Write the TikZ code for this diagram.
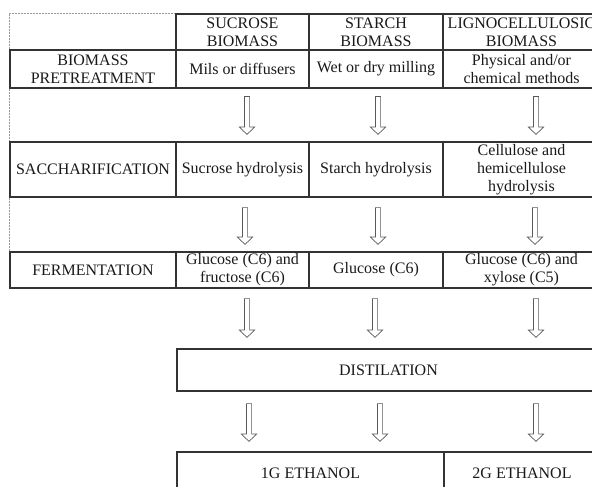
\documentclass[tikz,border=0pt]{standalone}
\usepackage{fontspec}
\setmainfont{Liberation Serif}
\usetikzlibrary{calc}

% hollow block arrow pointing down: #1 top of the shaft, #2 tip
\newcommand\hollowdown[2]{%
  \draw[blockarrow] let \p1=#1, \p2=#2 in
    ({\x1-2.6pt},\y1) -- ({\x1+2.6pt},\y1) -- ({\x1+2.6pt},{\y2+7.5pt})
    -- ({\x1+7.8pt},{\y2+7.5pt}) -- (\x1,\y2) -- ({\x1-7.8pt},{\y2+7.5pt})
    -- ({\x1-2.6pt},{\y2+7.5pt}) -- cycle;}

\begin{document}
\begin{tikzpicture}[x=1pt,y=-1pt,
  cell/.style={draw=black!80, line width=1.2pt, rectangle, inner sep=0pt,
    align=center, text=black!90, font=\fontsize{16}{18}\selectfont},
  hidden/.style={draw=black!40, line width=1pt, dash pattern=on 2pt off 1pt},
  blockarrow/.style={draw=black!65, line width=0.7pt, fill=white, line join=miter}]
\useasboundingbox (0,0) rectangle (592,487);
\clip (0,0) rectangle (592,487);

% header row
\node[cell, minimum width=133, minimum height=36] (hd1) at (242.5,32) {SUCROSE\\BIOMASS};
\node[cell, minimum width=134, minimum height=36] (hd2) at (376,32) {STARCH\\BIOMASS};
\node[cell, minimum width=157, minimum height=36] (hd3) at (521.5,32) {LIGNOCELLULOSIC\\BIOMASS};

% pretreatment row
\node[cell, minimum width=166, minimum height=38] (pre0) at (93,69) {BIOMASS\\PRETREATMENT};
\node[cell, minimum width=133, minimum height=38] (pre1) at (242.5,69) {Mils or diffusers};
\node[cell, minimum width=134, minimum height=38] (pre2) at (376,69) {Wet or dry milling};
\node[cell, minimum width=157, minimum height=38] (pre3) at (521.5,69) {Physical and/or\\chemical methods};

% saccharification row
\node[cell, minimum width=166, minimum height=55] (sac0) at (93,169.5) {SACCHARIFICATION};
\node[cell, minimum width=133, minimum height=55] (sac1) at (242.5,169.5) {Sucrose hydrolysis};
\node[cell, minimum width=134, minimum height=55] (sac2) at (376,169.5) {Starch hydrolysis};
\node[cell, minimum width=157, minimum height=55] (sac3) at (521.5,169.5) {Cellulose and\\hemicellulose\\hydrolysis};

% fermentation row
\node[cell, minimum width=166, minimum height=36] (fer0) at (93,270) {FERMENTATION};
\node[cell, minimum width=133, minimum height=36] (fer1) at (242.5,270) {Glucose (C6) and\\fructose (C6)};
\node[cell, minimum width=134, minimum height=36] (fer2) at (376,270) {Glucose (C6)};
\node[cell, minimum width=157, minimum height=36] (fer3) at (521.5,270) {Glucose (C6) and\\xylose (C5)};

% distillation and products
\node[cell, minimum width=423, minimum height=42] (dist) at (388.5,370) {DISTILATION};
\node[cell, minimum width=267, minimum height=43] (fin1) at (310.5,473.5) {1G ETHANOL};
\node[cell, minimum width=156, minimum height=43] (fin2) at (522,473.5) {2G ETHANOL};

% hidden borders of the label column
\draw[hidden] (pre0.north west) -- (pre0.north west |- hd1.north) -- (hd1.north west);
\draw[hidden] (pre0.south west) -- (sac0.north west);
\draw[hidden] (sac0.south west) -- (fer0.north west);

% pretreatment -> saccharification
\hollowdown{($(pre1.south)+(4.5,8)$)}{($(sac1.north)+(4.5,-7)$)}
\hollowdown{($(pre2.south)+(2,8)$)}{($(sac2.north)+(2,-7)$)}
\hollowdown{($(pre3.south)+(14.5,8)$)}{($(sac3.north)+(14.5,-7)$)}

% saccharification -> fermentation
\hollowdown{($(sac1.south)+(2.5,10)$)}{($(fer1.north)+(2.5,-7)$)}
\hollowdown{($(sac2.south)+(2,10)$)}{($(fer2.north)+(2,-7)$)}
\hollowdown{($(sac3.south)+(13.5,10)$)}{($(fer3.north)+(13.5,-7)$)}

% fermentation -> distillation
\hollowdown{($(fer1.south)+(4.5,10)$)}{($(fer1.south |- dist.north)+(4.5,-11)$)}
\hollowdown{($(fer2.south)+(-1,10)$)}{($(fer2.south |- dist.north)+(-1,-11)$)}
\hollowdown{($(fer3.south)+(14.5,10)$)}{($(fer3.south |- dist.north)+(14.5,-11)$)}

% distillation -> ethanol
\hollowdown{($(fer1.south |- dist.south)+(6.5,12)$)}{($(fer1.south |- fin1.north)+(6.5,-10)$)}
\hollowdown{($(fer2.south |- dist.south)+(4,12)$)}{($(fer2.south |- fin1.north)+(4,-10)$)}
\hollowdown{($(fer3.south |- dist.south)+(14.5,12)$)}{($(fer3.south |- fin2.north)+(14.5,-10)$)}
\end{tikzpicture}
\end{document}
